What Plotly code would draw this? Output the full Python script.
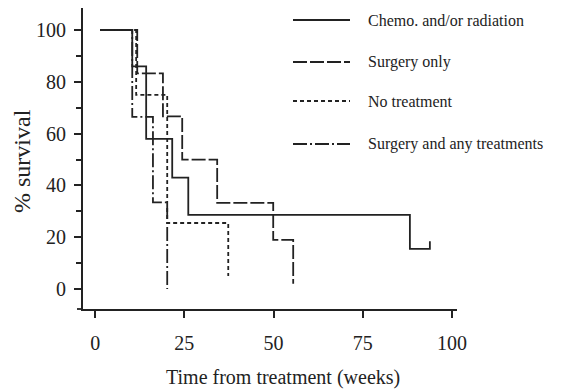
import plotly.graph_objects as go

# Survival curves (weeks from treatment vs % survival), step functions
chemo_weeks = [1.4, 10.4, 14.3, 21.6, 26.1, 88.2, 93.8, 93.8]
chemo_surv = [100, 86, 58, 43, 28.6, 15.5, 15.5, 18.5]

surgery_weeks = [1.4, 11.8, 19.0, 24.4, 34.2, 49.9, 55.5]
surgery_surv = [100, 83.3, 66.7, 50, 33.3, 19, 2]

none_weeks = [1.4, 11.5, 20.2, 37.3]
none_surv = [100, 75, 25.5, 5]

combo_weeks = [1.4, 10.4, 16.2, 20.2]
combo_surv = [100, 66.5, 33.5, 0]

series_names = ["Chemo. and/or radiation", "Surgery only", "No treatment",
                "Surgery and any treatments"]
x_ticks = [0, 25, 50, 75, 100]
y_ticks = [0, 20, 40, 60, 80, 100]

INK = "#222222"
FONT = "Liberation Serif, Times New Roman, serif"
dashes = ["solid", "14px,3px", "4px,3px", "14px,3px,2px,3px"]

data = [(chemo_weeks, chemo_surv), (surgery_weeks, surgery_surv),
        (none_weeks, none_surv), (combo_weeks, combo_surv)]

fig = go.Figure()
for (wx, sy), name, dash in zip(data, series_names, dashes):
    fig.add_trace(go.Scatter(
        x=wx, y=sy, mode="lines", name=name, line_shape="hv",
        line=dict(color=INK, width=1.8, dash=dash), showlegend=False,
    ))

# Plot-area geometry in pixels (used for placing the hand-drawn legend)
W, H = 563, 392
L, R, T, B = 83, 106, 8, 83
pw, ph = W - L - R, H - T - B

def px_x(px):
    return (px - L) / pw

def px_y(py):
    return (H - B - py) / ph

legend_rows = [20, 62, 101, 144]
shapes = []
annotations = []
for name, dash, row in zip(series_names, dashes, legend_rows):
    shapes.append(dict(type="line", xref="paper", yref="paper",
                       x0=px_x(293), x1=px_x(350), y0=px_y(row), y1=px_y(row),
                       line=dict(color=INK, width=1.8, dash=dash)))
    annotations.append(dict(text=name, xref="paper", yref="paper",
                            x=px_x(366), y=px_y(row), xanchor="left",
                            yanchor="middle", showarrow=False,
                            font=dict(family=FONT, size=16, color=INK)))

# small overhang of the x-axis line past the y axis
shapes.append(dict(type="line", xref="paper", yref="paper",
                   x0=px_x(77), x1=0, y0=0, y1=0,
                   line=dict(color=INK, width=1.8)))

# Axis titles
annotations.append(dict(text="Time from treatment (weeks)", xref="paper",
                        yref="paper", x=px_x(283), y=px_y(377),
                        xanchor="center", yanchor="middle", showarrow=False,
                        font=dict(family=FONT, size=20, color=INK)))
annotations.append(dict(text="% survival", xref="paper", yref="paper",
                        x=px_x(22), y=px_y(161), textangle=-90,
                        xanchor="center", yanchor="middle", showarrow=False,
                        font=dict(family=FONT, size=24, color=INK)))

fig.update_layout(
    width=W, height=H,
    margin=dict(l=L, r=R, t=T, b=B),
    paper_bgcolor="white", plot_bgcolor="white",
    font=dict(family=FONT, size=20, color=INK),
    shapes=shapes, annotations=annotations,
)
fig.update_xaxes(
    range=[-3.4, 101.4], tickvals=x_ticks, ticks="outside", ticklen=7,
    tickwidth=1.5, tickcolor=INK, showline=True, linecolor=INK, linewidth=1.8,
    showgrid=False, zeroline=False, ticklabelstandoff=8,
)
fig.update_yaxes(
    range=[-7.7, 108.5], tickvals=y_ticks, ticks="outside", ticklen=7,
    tickwidth=1.5, tickcolor=INK, showline=True, linecolor=INK, linewidth=1.8,
    showgrid=False, zeroline=False, ticklabelstandoff=4,
    minor=dict(tickvals=[10, 30, 50, 70, 90], ticks="outside", ticklen=5,
               tickwidth=1.5, tickcolor=INK),
)

fig.write_html("out.html")
